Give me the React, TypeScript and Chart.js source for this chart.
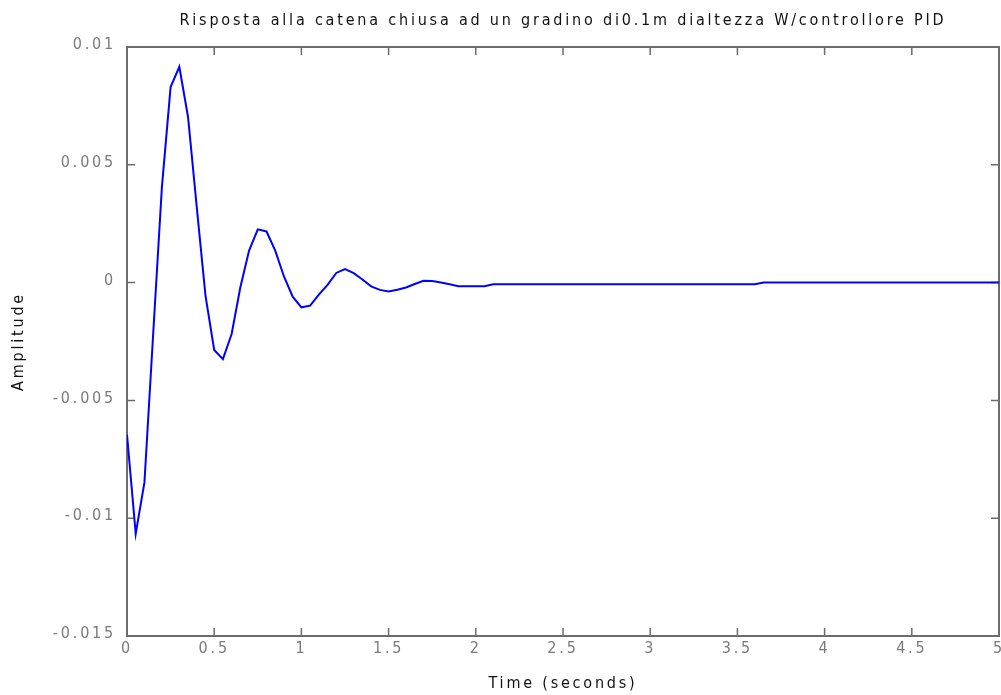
import React, { useEffect, useRef } from "react";
import { Chart, registerables } from "chart.js";

Chart.register(...registerables);

const TITLE = "Risposta alla catena chiusa ad un gradino di0.1m dialtezza W/controllore PID";
const X_TITLE = "Time (seconds)";
const Y_TITLE = "Amplitude";

const timeValues = [
  0, 0.05, 0.1, 0.15, 0.2, 0.25, 0.3, 0.35, 0.4, 0.45,
  0.5, 0.55, 0.6, 0.65, 0.7, 0.75, 0.8, 0.85, 0.9, 0.95,
  1.0, 1.05, 1.1, 1.15, 1.2, 1.25, 1.3, 1.35, 1.4, 1.45,
  1.5, 1.55, 1.6, 1.65, 1.7, 1.75, 1.8, 1.85, 1.9, 1.95,
  2.0, 2.05, 2.1, 3.6, 3.65, 5.0,
];

const amplitudeValues = [
  -0.00645, -0.01066, -0.00848, -0.00219, 0.00404, 0.0083, 0.00916, 0.00703, 0.0032, -0.00055,
  -0.00286, -0.00325, -0.00218, -0.0002, 0.00136, 0.00226, 0.00217, 0.00136, 0.00026, -0.0006,
  -0.00105, -0.00098, -0.00051, -0.0001, 0.00041, 0.00057, 0.0004, 0.00013, -0.00016, -0.00031,
  -0.00038, -0.0003, -0.00021, -0.00006, 0.00008, 0.00007, 0.0, -0.00007, -0.00015, -0.00015,
  -0.00015, -0.00015, -0.00007, -0.00007, 0.0, 0.0,
];

const xTickValues = [0, 0.5, 1, 1.5, 2, 2.5, 3, 3.5, 4, 4.5, 5];
const xTickLabels = ["0", "0.5", "1", "1.5", "2", "2.5", "3", "3.5", "4", "4.5", "5"];
const yTickValues = [-0.015, -0.01, -0.005, 0, 0.005, 0.01];
const yTickLabels = ["-0.015", "-0.01", "-0.005", "0", "0.005", "0.01"];

const FONT_FAMILY = '"Liberation Sans Narrow", "DejaVu Sans Condensed", "Liberation Sans", sans-serif';
const FONT_SIZE = 16;
const AXIS_COLOR = "#6c6c6c";
const TICK_LABEL_COLOR = "#7a7a7a";
const TEXT_COLOR = "#111111";
const LETTER_SPACING = "2.8px";

const framePlugin = {
  id: "matlabFrame",
  beforeUpdate(chart: any) {
    chart.ctx.letterSpacing = LETTER_SPACING;
  },
  beforeDraw(chart: any) {
    const ctx = chart.ctx;
    ctx.letterSpacing = LETTER_SPACING;
    ctx.save();
    ctx.fillStyle = "#ffffff";
    ctx.fillRect(0, 0, chart.width, chart.height);
    ctx.restore();
  },
  beforeDatasetsDraw(chart: any) {
    const { ctx, chartArea, scales } = chart;
    const { left, right, top, bottom } = chartArea;
    const tickLen = 8;
    ctx.save();
    ctx.strokeStyle = AXIS_COLOR;
    ctx.lineWidth = 2;
    ctx.strokeRect(left, top, right - left, bottom - top);
    ctx.lineWidth = 1.5;
    ctx.beginPath();
    for (const v of xTickValues) {
      const px = scales.x.getPixelForValue(v);
      ctx.moveTo(px, bottom);
      ctx.lineTo(px, bottom - tickLen);
      ctx.moveTo(px, top);
      ctx.lineTo(px, top + tickLen);
    }
    for (const v of yTickValues) {
      const py = scales.y.getPixelForValue(v);
      ctx.moveTo(left, py);
      ctx.lineTo(left + tickLen, py);
      ctx.moveTo(right, py);
      ctx.lineTo(right - tickLen, py);
    }
    ctx.stroke();
    ctx.restore();
  },
};

export default function App() {
  const canvasRef = useRef<HTMLCanvasElement | null>(null);

  useEffect(() => {
    const canvas = canvasRef.current;
    if (!canvas) return;
    const chart = new Chart(canvas, {
      type: "line",
      data: {
        datasets: [
          {
            label: "step",
            data: timeValues.map((t, i) => ({ x: t, y: amplitudeValues[i] })),
            borderColor: "#0000ff",
            borderWidth: 2,
            pointRadius: 0,
            tension: 0,
            fill: false,
          },
        ],
      },
      options: {
        animation: false,
        responsive: false,
        devicePixelRatio: 1,
        layout: { padding: { left: 0, right: 2, top: 0, bottom: 0 } },
        plugins: {
          legend: { display: false },
          tooltip: { enabled: false },
          title: {
            display: true,
            text: TITLE,
            fullSize: false,
            color: TEXT_COLOR,
            font: { family: FONT_FAMILY, size: FONT_SIZE, weight: "normal" },
            padding: { top: 11, bottom: 16.8 },
          },
        },
        scales: {
          x: {
            type: "linear",
            min: 0,
            max: 5,
            afterBuildTicks: (scale: any) => {
              scale.ticks = xTickValues.map((v) => ({ value: v }));
            },
            afterFit: (scale: any) => {
              scale.height = 59;
              scale.paddingLeft = 0;
              scale.paddingRight = 0;
            },
            grid: { display: false, drawTicks: false },
            border: { display: false },
            ticks: {
              autoSkip: false,
              maxRotation: 0,
              padding: 3,
              color: TICK_LABEL_COLOR,
              font: { family: FONT_FAMILY, size: FONT_SIZE },
              callback: (_v: any, i: number) => xTickLabels[i],
            },
            title: {
              display: true,
              text: X_TITLE,
              color: TEXT_COLOR,
              font: { family: FONT_FAMILY, size: FONT_SIZE },
              padding: { top: 0, bottom: 2 },
            },
          },
          y: {
            type: "linear",
            min: -0.015,
            max: 0.01,
            afterBuildTicks: (scale: any) => {
              scale.ticks = yTickValues.map((v) => ({ value: v }));
            },
            afterFit: (scale: any) => {
              scale.width = 127;
            },
            grid: { display: false, drawTicks: false },
            border: { display: false },
            ticks: {
              autoSkip: false,
              padding: 11,
              labelOffset: -2,
              color: TICK_LABEL_COLOR,
              font: { family: FONT_FAMILY, size: FONT_SIZE },
              callback: (_v: any, i: number) => yTickLabels[i],
            },
            title: {
              display: true,
              text: Y_TITLE,
              color: TEXT_COLOR,
              font: { family: FONT_FAMILY, size: FONT_SIZE },
              padding: { top: 9, bottom: 0 },
            },
          },
        },
      },
      plugins: [framePlugin],
    } as any);
    return () => chart.destroy();
  }, []);

  return (
    <div style={{ position: "absolute", left: 0, top: 0, width: 1001, height: 695, background: "#fff" }}>
      <canvas ref={canvasRef} width={1001} height={695} style={{ display: "block" }} />
    </div>
  );
}
